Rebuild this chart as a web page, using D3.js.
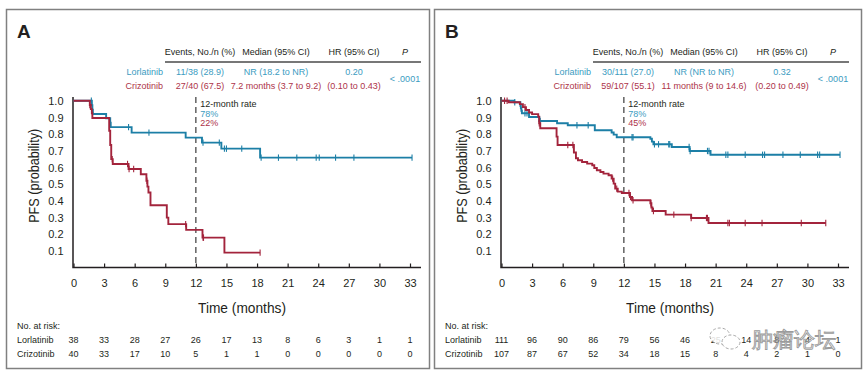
<!DOCTYPE html>
<html>
<head>
<meta charset="utf-8">
<script src="https://cdn.jsdelivr.net/npm/d3@7"></script>
<style>
  body { margin: 0; background: #fff; }
  svg text { font-family: "Liberation Sans", Arial, Helvetica, sans-serif; }
</style>
</head>
<body>
<div id="chart"></div>
<script>
/*
 * Data (A and B)
 */
const monthTicks = [0, 3, 6, 9, 12, 15, 18, 21, 24, 27, 30, 33];
const probTicks = [0.1, 0.2, 0.3, 0.4, 0.5, 0.6, 0.7, 0.8, 0.9, 1.0];
const arms = ['Lorlatinib', 'Crizotinib'];
const headerCols = ['Events, No./n (%)', 'Median (95% CI)', 'HR (95% CI)', 'P'];

// Panel A
const aLorTimes = [0, 1.8, 1.85, 1.9, 3.2, 3.6, 3.65, 5.7, 11.0, 12.6, 14.5, 18.3];
const aLorSurv = [1, 0.974, 0.947, 0.921, 0.895, 0.868, 0.842, 0.809, 0.779, 0.749, 0.713, 0.659];
const aLorCensor = [1.75, 5.4, 7.4, 12.7, 14.3, 14.8, 15.0, 16.5, 18.4, 20.1, 21.9, 23.8, 24.1, 25.7, 27.5, 33.2];
const aCriTimes = [0, 1.6, 1.7, 1.8, 1.85, 3.5, 3.6, 3.7, 3.85, 5.4, 6.6, 7.15, 7.25, 7.35, 7.55, 9.15, 9.3, 11.05, 12.65, 14.8];
const aCriSurv = [1, 0.975, 0.95, 0.925, 0.897, 0.82, 0.735, 0.65, 0.621, 0.591, 0.559, 0.52, 0.485, 0.45, 0.373, 0.299, 0.26, 0.226, 0.179, 0.089];
const aCriCensor = [1.6, 3.8, 5.3, 5.45, 5.9, 7.2, 11.0, 12.7, 12.75, 18.3];
const aLorRisk = [38, 33, 28, 27, 26, 17, 13, 8, 6, 3, 1, 1];
const aCriRisk = [40, 33, 17, 10, 5, 1, 1, 0, 0, 0, 0, 0];
const aLorStats = ['11/38 (28.9)', 'NR (18.2 to NR)', '0.20'];
const aCriStats = ['27/40 (67.5)', '7.2 months (3.7 to 9.2)', '(0.10 to 0.43)'];
const aRates = ['78%', '22%'];

// Panel B
const bLorTimes = [0, 1.25, 1.85, 1.9, 1.95, 2.0, 2.7, 3.7, 5.45, 6.5, 9.15, 10.8, 11.0, 11.3, 14.6, 14.75, 14.9, 16.7, 18.45, 20.5];
const bLorSurv = [1, 0.991, 0.97, 0.955, 0.94, 0.925, 0.903, 0.879, 0.865, 0.853, 0.823, 0.81, 0.797, 0.781, 0.772, 0.755, 0.739, 0.723, 0.699, 0.676];
const bLorCensor = [1.3, 2.3, 2.5, 3.8, 7.4, 8.5, 12.8, 12.9, 15.0, 15.4, 16.4, 16.5, 18.4, 18.5, 20.2, 20.35, 22.0, 22.2, 23.9, 25.6, 25.8, 27.6, 29.3, 31.0, 31.2, 33.2];
const bCriTimes = [0, 0.7, 1.8, 2.1, 2.4, 2.7, 3.0, 3.6, 3.7, 3.8, 5.4, 5.5, 7.1, 7.3, 7.5, 7.9, 8.4, 8.9, 9.1, 9.35, 9.7, 10.0, 10.5, 10.8, 11.0, 11.15, 11.4, 11.8, 12.6, 12.8, 14.6, 14.7, 14.8, 16.1, 18.6, 20.3];
const bCriSurv = [1, 0.991, 0.98, 0.962, 0.945, 0.93, 0.92, 0.905, 0.865, 0.835, 0.785, 0.735, 0.69, 0.655, 0.643, 0.633, 0.623, 0.613, 0.597, 0.583, 0.573, 0.563, 0.553, 0.533, 0.503, 0.473, 0.455, 0.447, 0.423, 0.403, 0.385, 0.36, 0.339, 0.317, 0.297, 0.267];
const bCriCensor = [0.3, 0.55, 2.3, 3.7, 6.5, 7.0, 10.9, 11.3, 12.5, 12.65, 12.9, 14.65, 14.9, 16.9, 18.6, 20.1, 20.2, 22.2, 22.35, 23.9, 25.55, 29.4, 31.8];
const bLorRisk = [111, 96, 90, 86, 79, 56, 46, 25, 14, 8, 4, 1];
const bCriRisk = [107, 87, 67, 52, 34, 18, 15, 8, 4, 2, 1, 0];
const bLorStats = ['30/111 (27.0)', 'NR (NR to NR)', '0.32'];
const bCriStats = ['59/107 (55.1)', '11 months (9 to 14.6)', '(0.20 to 0.49)'];
const bRates = ['78%', '45%'];

const pValue = '< .0001';

/*
 * Layout
 */
const width = 865;
const height = 377;
const blueLine = '#1c7fa6';
const redLine = '#a3243c';
const blueText = '#3b9cbf';
const redText = '#ad3349';
const ink = '#231f20';

const svg = d3.select('#chart')
  .append('svg')
    .attr('width', width)
    .attr('height', height);

const panels = [
  { letter: 'A', dx: 0, frameW: 423,
    curves: [
      { times: aLorTimes, surv: aLorSurv, censor: aLorCensor, color: blueLine },
      { times: aCriTimes, surv: aCriSurv, censor: aCriCensor, color: redLine }
    ],
    risk: [aLorRisk, aCriRisk], stats: [aLorStats, aCriStats], rates: aRates },
  { letter: 'B', dx: 428, frameW: 427,
    curves: [
      { times: bLorTimes, surv: bLorSurv, censor: bLorCensor, color: blueLine },
      { times: bCriTimes, surv: bCriSurv, censor: bCriCensor, color: redLine }
    ],
    risk: [bLorRisk, bCriRisk], stats: [bLorStats, bCriStats], rates: bRates }
];

const xScale = d3.scaleLinear().domain([0, 33]).range([73.5, 410]);
const yScale = d3.scaleLinear().domain([0, 1]).range([267.5, 100.8]);

panels.forEach(p => drawPanel(p));

function drawPanel(p) {
  const g = svg.append('g').attr('transform', `translate(${p.dx}, 0)`);

  // Frame
  g.append('rect')
      .attr('x', 6.5).attr('y', 9.5)
      .attr('width', p.frameW).attr('height', 359)
      .attr('fill', 'none')
      .attr('stroke', '#808080')
      .attr('stroke-width', 1.5);

  g.append('text')
      .attr('x', 17).attr('y', 38)
      .attr('font-size', 19).attr('font-weight', 'bold')
      .attr('fill', ink)
      .text(p.letter);

  /*
   * Summary table
   */
  const colX = [200, 276, 354, 405];
  g.selectAll('.hdr')
    .data(headerCols)
    .join('text')
      .attr('class', 'hdr')
      .attr('x', (d, i) => colX[i])
      .attr('y', 52)
      .attr('dy', '0.35em')
      .attr('text-anchor', 'middle')
      .attr('font-size', 9)
      .attr('font-style', (d, i) => i === 3 ? 'italic' : null)
      .attr('fill', ink)
      .text(d => d);

  g.append('line')
      .attr('x1', 165).attr('x2', 421)
      .attr('y1', 62).attr('y2', 62)
      .attr('stroke', '#4a4a4a').attr('stroke-width', 1.3);

  const rowY = [72, 86];
  const rowColor = [blueText, redText];
  arms.forEach((arm, r) => {
    g.append('text')
        .attr('x', 163).attr('y', rowY[r]).attr('dy', '0.35em')
        .attr('text-anchor', 'end').attr('font-size', 9)
        .attr('fill', rowColor[r])
        .text(arm);
    g.selectAll(`.stat${r}`)
      .data(p.stats[r])
      .join('text')
        .attr('class', `stat${r}`)
        .attr('x', (d, i) => colX[i])
        .attr('y', rowY[r]).attr('dy', '0.35em')
        .attr('text-anchor', 'middle').attr('font-size', 9)
        .attr('fill', rowColor[r])
        .text(d => d);
  });

  g.append('text')
      .attr('x', 405).attr('y', 79).attr('dy', '0.35em')
      .attr('text-anchor', 'middle').attr('font-size', 9)
      .attr('fill', blueText)
      .text(pValue);

  /*
   * Axes
   */
  const xAxis = d3.axisBottom(xScale)
      .tickValues(monthTicks)
      .tickSizeInner(-4)
      .tickSizeOuter(0)
      .tickPadding(11.5);

  const xg = g.append('g')
      .attr('transform', `translate(0, ${yScale(0)})`)
      .call(xAxis);
  xg.select('.domain').remove();
  xg.selectAll('line').attr('stroke', ink).attr('stroke-width', 1.2);
  xg.selectAll('text')
      .attr('font-size', 11)
      .attr('fill', ink)
      .attr('font-family', '"Liberation Sans", Arial, sans-serif');

  const yAxis = d3.axisLeft(yScale)
      .tickValues(probTicks)
      .tickFormat(d3.format('.1f'))
      .tickSize(0)
      .tickPadding(10);

  const yg = g.append('g')
      .attr('transform', `translate(${xScale(0)}, 0)`)
      .call(yAxis);
  yg.select('.domain').remove();
  yg.selectAll('text')
      .attr('font-size', 11)
      .attr('fill', ink)
      .attr('font-family', '"Liberation Sans", Arial, sans-serif');

  g.append('path')
      .attr('d', `M${xScale(0) - 0.5},97V${yScale(0)}H421`)
      .attr('fill', 'none')
      .attr('stroke', ink)
      .attr('stroke-width', 1.5);

  // Axis titles
  g.append('text')
      .attr('x', 242).attr('y', 308).attr('dy', '0.35em')
      .attr('text-anchor', 'middle')
      .attr('font-size', 15)
      .attr('textLength', 88).attr('lengthAdjust', 'spacingAndGlyphs')
      .attr('fill', ink)
      .text('Time (months)');

  g.append('text')
      .attr('transform', `translate(34, ${yScale(0.55)}) rotate(-90)`)
      .attr('dy', '0.35em')
      .attr('text-anchor', 'middle')
      .attr('font-size', 15.5)
      .attr('textLength', 94).attr('lengthAdjust', 'spacingAndGlyphs')
      .attr('fill', ink)
      .text('PFS (probability)');

  /*
   * 12-month landmark
   */
  g.append('line')
      .attr('x1', xScale(12)).attr('x2', xScale(12))
      .attr('y1', 97).attr('y2', yScale(0))
      .attr('stroke', '#3a3a3a')
      .attr('stroke-width', 1.2)
      .attr('stroke-dasharray', '6,4');

  const rateLabels = ['12-month rate'].concat(p.rates);
  const rateColors = [ink, blueText, redText];
  g.selectAll('.rate')
    .data(rateLabels)
    .join('text')
      .attr('class', 'rate')
      .attr('x', xScale(12) + 4.5)
      .attr('y', (d, i) => 104 + i * 9.5)
      .attr('dy', '0.35em')
      .attr('font-size', 9)
      .attr('fill', (d, i) => rateColors[i])
      .text(d => d);

  /*
   * Kaplan-Meier curves
   */
  const stepLine = d3.line()
      .x(d => xScale(d[0]))
      .y(d => yScale(d[1]))
      .curve(d3.curveStepAfter);

  p.curves.forEach(c => {
    const pts = c.times.map((t, i) => [t, c.surv[i]]);
    const end = Math.max(d3.max(c.censor), d3.max(c.times));
    pts.push([end, c.surv[c.surv.length - 1]]);

    g.append('path')
        .datum(pts)
        .attr('d', stepLine)
        .attr('fill', 'none')
        .attr('stroke', c.color)
        .attr('stroke-width', 1.9);

    const survAt = t => c.surv[d3.bisectRight(c.times, t) - 1];
    g.selectAll(null)
      .data(c.censor)
      .join('line')
        .attr('x1', d => xScale(d)).attr('x2', d => xScale(d))
        .attr('y1', d => yScale(survAt(d)) - 3.2)
        .attr('y2', d => yScale(survAt(d)) + 3.2)
        .attr('stroke', c.color)
        .attr('stroke-width', 1.1);
  });

  /*
   * Number at risk
   */
  g.append('text')
      .attr('x', 17).attr('y', 325.5).attr('dy', '0.35em')
      .attr('font-size', 9).attr('fill', ink)
      .text('No. at risk:');

  const riskY = [340, 354];
  arms.forEach((arm, r) => {
    g.append('text')
        .attr('x', 17).attr('y', riskY[r]).attr('dy', '0.35em')
        .attr('font-size', 9).attr('fill', ink)
        .text(arm);
    g.selectAll(`.risk${r}`)
      .data(p.risk[r])
      .join('text')
        .attr('class', `risk${r}`)
        .attr('x', (d, i) => xScale(monthTicks[i]))
        .attr('y', riskY[r]).attr('dy', '0.35em')
        .attr('text-anchor', 'middle')
        .attr('font-size', 9).attr('fill', ink)
        .text(d => d);
  });
}

/*
 * Watermark over panel B's risk table
 */
const wm = svg.append('g').attr('opacity', 0.85);
wm.append('ellipse')
    .attr('cx', 720).attr('cy', 336).attr('rx', 10).attr('ry', 8)
    .attr('fill', '#fff').attr('stroke', '#9a9a9a').attr('stroke-width', 1)
    .attr('stroke-dasharray', '3,2');
wm.append('ellipse')
    .attr('cx', 731).attr('cy', 342).attr('rx', 9).attr('ry', 7)
    .attr('fill', '#fff').attr('stroke', '#9a9a9a').attr('stroke-width', 1)
    .attr('stroke-dasharray', '3,2');
wm.append('text')
    .attr('x', 752).attr('y', 347)
    .attr('font-size', 21)
    .attr('font-family', '"Noto Sans CJK SC", sans-serif')
    .attr('fill', '#fff')
    .attr('fill-opacity', 0.6)
    .attr('stroke', '#8a8a8a')
    .attr('stroke-width', 0.9)
    .text('肿瘤论坛');
</script>
</body>
</html>
